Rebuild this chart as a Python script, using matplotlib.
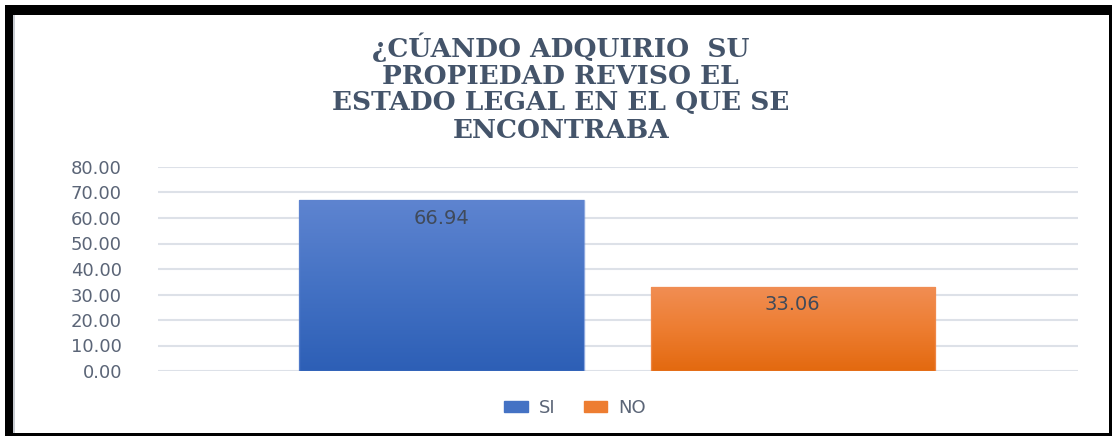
import numpy as np
import matplotlib.pyplot as plt
from matplotlib.colors import LinearSegmentedColormap
from matplotlib.patches import Rectangle

# data
series = ["SI", "NO"]
values = [66.94, 33.06]
yticks = [0, 10, 20, 30, 40, 50, 60, 70, 80]
title = "¿CÚANDO ADQUIRIO  SU\nPROPIEDAD REVISO EL\nESTADO LEGAL EN EL QUE SE\nENCONTRABA"

# style
W, H = 1117, 437
offsets = [-0.192, 0.190]
bar_w = 0.309
grads = [("#5e84d0", "#4472c4", "#2d5fb6"), ("#f18e54", "#ed7d31", "#e3690f")]
legend_cols = ["#4472c4", "#ed7d31"]
label_col = "#404a5a"
tick_col = "#5b6577"
title_col = "#44546a"
grid_col = "#dde1e8"

fig = plt.figure(figsize=(W / 100, H / 100), dpi=100)
ax = fig.add_axes([158 / W, 66 / H, 920 / W, 204 / H])


def gradient_bar(ax, x, h, width, cols):
    bar = ax.bar(x, h, width=width, color="none", edgecolor="none", zorder=2)[0]
    cmap = LinearSegmentedColormap.from_list("g", cols[::-1])
    grad = np.linspace(0, 1, 256).reshape(-1, 1)
    im = ax.imshow(grad, cmap=cmap, aspect="auto", origin="lower",
                   extent=[x - width / 2, x + width / 2, 0, h], zorder=2)
    im.set_clip_path(bar)
    ax.bar(x, h, width=width, color="none", edgecolor=cols[0], lw=1.0,
           alpha=0.7, zorder=3)
    return bar


for off, v, cols in zip(offsets, values, grads):
    gradient_bar(ax, off, v, bar_w, cols)
    ax.annotate(f"{v:.2f}", (off, v), xytext=(0, -13), textcoords="offset points",
                ha="center", va="center", fontsize=14, color=label_col)

ax.set_xlim(-0.5, 0.5)
ax.set_ylim(0, 80)
ax.set_yticks(yticks)
ax.set_yticklabels([f"{t:.2f}" for t in yticks])
ax.set_xticks([])
ax.tick_params(axis="y", length=0, pad=26, labelsize=13, labelcolor=tick_col)
ax.grid(axis="y", color=grid_col, lw=1.5, zorder=0)
ax.set_axisbelow(True)
for s in ax.spines.values():
    s.set_visible(False)

fig.text(0.502, 1 - 32 / H, title, ha="center", va="top", fontsize=19,
         fontweight="bold", family="DejaVu Serif", color=title_col,
         linespacing=1.1)

handles = [Rectangle((0, 0), 1, 1, color=c) for c in legend_cols]
fig.legend(handles, series, loc="center", bbox_to_anchor=(575 / W, 1 - 408 / H),
           ncol=2, frameon=False, fontsize=13, labelcolor=tick_col,
           handlelength=1.3, handleheight=0.5, handletextpad=0.6,
           columnspacing=1.6)

# outer black frame (thick left/top, thin right/bottom)
frame = [(5, 5, 8, 431), (5, 5, 1107, 10), (1109, 5, 3, 431), (5, 433, 1107, 3)]
for x0, y0, w, h in frame:
    fig.add_artist(Rectangle((x0 / W, 1 - (y0 + h) / H), w / W, h / H,
                             transform=fig.transFigure, color="black", lw=0))
fig.add_artist(Rectangle((13 / W, 1 - 433 / H), 2 / W, 418 / H,
                         transform=fig.transFigure, color="#c8ccd2", lw=0))

fig.savefig("out.png", dpi=100)
